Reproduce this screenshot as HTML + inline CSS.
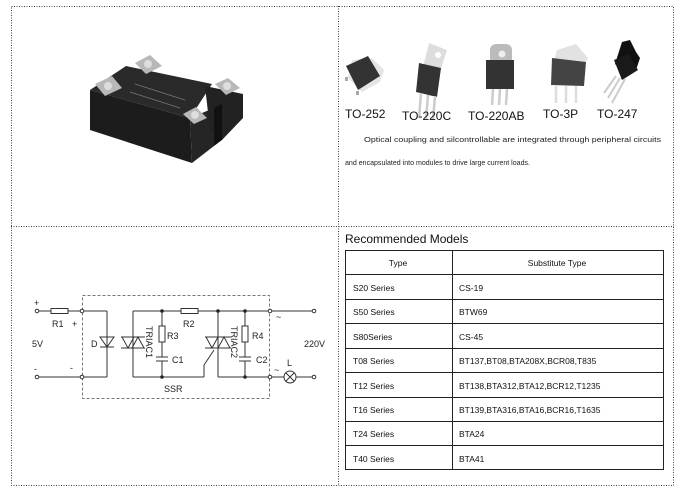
<!DOCTYPE html>
<html><head><meta charset="utf-8"><style>
html,body{margin:0;padding:0;background:#fff;}
svg{display:block;}
text{font-family:"Liberation Sans",sans-serif;}
</style></head><body>
<svg width="680" height="489" viewBox="0 0 680 489" xmlns="http://www.w3.org/2000/svg">
<rect x="0" y="0" width="680" height="489" fill="#fff"/>
<!-- outer grid dotted -->
<g stroke="#444" stroke-width="1" stroke-dasharray="1,1.5" fill="none">
<rect x="11.5" y="6.5" width="662" height="479"/>
<line x1="338.5" y1="6" x2="338.5" y2="486"/>
<line x1="11" y1="226.5" x2="674" y2="226.5"/>
</g>

<!-- relay image -->
<g>
<polygon points="90,90 126,66 212,84 190,118" fill="#2a2a2a"/>
<polygon points="90,90 190,118 192,163 90,130" fill="#1c1c1c"/>
<polygon points="190,118 214,108 214,146 192,163" fill="#252525"/>
<polygon points="205,86 243,94 243,118 222,140 210,130" fill="#222"/>
<polygon points="214,108 222,104 222,140 214,146" fill="#111"/>
<polygon points="95,84 112,76 122,88 105,96" fill="#b8b8b8"/>
<circle cx="108" cy="86" r="4" fill="#ddd"/>
<polygon points="135,63 150,55 162,66 146,74" fill="#b8b8b8"/>
<circle cx="148" cy="64" r="4" fill="#ddd"/>
<polygon points="215,84 228,78 240,88 226,95" fill="#b8b8b8"/>
<circle cx="227" cy="86" r="4" fill="#ddd"/>
<polygon points="183,114 196,107 207,118 194,124" fill="#b8b8b8"/>
<circle cx="195" cy="115" r="4" fill="#ddd"/>
<line x1="135" y1="84" x2="185" y2="100" stroke="#777" stroke-width="0.7"/>
<line x1="130" y1="92" x2="180" y2="108" stroke="#777" stroke-width="0.7"/>
</g>

<!-- transistor packages -->
<g>
<!-- TO-252 -->
<polygon points="352,60 372,58 384,70 380,82 362,92 348,78" fill="#e5e5e5"/>
<polygon points="346,66 368,56 380,76 358,90" fill="#333"/>
<rect x="345" y="77" width="3" height="4" fill="#aaa"/>
<rect x="356" y="91" width="3" height="4" fill="#aaa"/>
<!-- TO-220C -->
<polygon points="429,43 447,50 440,72 423,67" fill="#ddd"/>
<circle cx="438" cy="55" r="3" fill="#fff"/>
<polygon points="419,63 441,68 437,97 416,92" fill="#333"/>
<g stroke="#ccc" stroke-width="2.5"><line x1="421" y1="93" x2="419" y2="118"/><line x1="428" y1="95" x2="426" y2="119"/><line x1="435" y1="96" x2="433" y2="120"/></g>
<!-- TO-220AB -->
<rect x="490" y="44" width="22" height="22" rx="6" fill="#bbb"/>
<circle cx="502" cy="54" r="3.5" fill="#eee"/>
<rect x="486" y="60" width="28" height="29" fill="#333"/>
<g stroke="#ccc" stroke-width="2.5"><line x1="493" y1="89" x2="492" y2="105"/><line x1="500" y1="89" x2="499" y2="105"/><line x1="507" y1="89" x2="506" y2="105"/></g>
<!-- TO-3P -->
<polygon points="557,50 576,44 588,58 584,66 553,64" fill="#e2e2e2"/>
<polygon points="552,58 586,62 584,86 551,85" fill="#444"/>
<g stroke="#ddd" stroke-width="2.5"><line x1="556" y1="86" x2="556" y2="103"/><line x1="566" y1="86" x2="566" y2="103"/><line x1="576" y1="86" x2="576" y2="103"/></g>
<!-- TO-247 -->
<polygon points="622,42 630,40 636,52 640,58 636,70 626,74 615,64" fill="#111"/>
<polygon points="614,60 628,54 638,70 622,80" fill="#1a1a1a"/>
<g stroke="#ccc" stroke-width="2"><line x1="616" y1="76" x2="604" y2="93"/><line x1="620" y1="78" x2="608" y2="98"/><line x1="625" y1="79" x2="612" y2="103"/></g>
</g>
<g font-size="12" fill="#111">
<text x="345" y="118">TO-252</text>
<text x="402" y="120">TO-220C</text>
<text x="468" y="120">TO-220AB</text>
<text x="543" y="118">TO-3P</text>
<text x="597" y="118">TO-247</text>
</g>
<g font-size="7.3" fill="#222">
<text x="364" y="142" textLength="297" lengthAdjust="spacingAndGlyphs">Optical coupling and silcontrollable are integrated through  peripheral circuits</text>
<text x="345" y="165" textLength="185" lengthAdjust="spacingAndGlyphs">and encapsulated into modules to drive large current loads.</text>
</g>

<!-- table -->
<text x="345" y="243" font-size="12" fill="#111">Recommended Models</text>
<g stroke="#222" stroke-width="1" fill="none">
<rect x="345.5" y="250.5" width="318" height="219"/>
<line x1="452.5" y1="250" x2="452.5" y2="470"/>
<line x1="345" y1="274.5" x2="664" y2="274.5"/>
<line x1="345" y1="299.5" x2="664" y2="299.5"/>
<line x1="345" y1="323.5" x2="664" y2="323.5"/>
<line x1="345" y1="348.5" x2="664" y2="348.5"/>
<line x1="345" y1="372.5" x2="664" y2="372.5"/>
<line x1="345" y1="397.5" x2="664" y2="397.5"/>
<line x1="345" y1="421.5" x2="664" y2="421.5"/>
<line x1="345" y1="445.5" x2="664" y2="445.5"/>
</g>
<g font-size="8.5" fill="#111">
<text x="398" y="266" text-anchor="middle">Type</text>
<text x="557" y="266" text-anchor="middle">Substitute Type</text>
<text x="353" y="291">S20 Series</text><text x="459" y="291">CS-19</text>
<text x="353" y="315">S50 Series</text><text x="459" y="315">BTW69</text>
<text x="353" y="340">S80Series</text><text x="459" y="340">CS-45</text>
<text x="353" y="364">T08 Series</text><text x="459" y="364">BT137,BT08,BTA208X,BCR08,T835</text>
<text x="353" y="389">T12 Series</text><text x="459" y="389">BT138,BTA312,BTA12,BCR12,T1235</text>
<text x="353" y="413">T16 Series</text><text x="459" y="413">BT139,BTA316,BTA16,BCR16,T1635</text>
<text x="353" y="437">T24 Series</text><text x="459" y="437">BTA24</text>
<text x="353" y="462">T40 Series</text><text x="459" y="462">BTA41</text>
</g>

<!-- circuit -->
<rect x="82.5" y="295.5" width="187" height="103" fill="none" stroke="#777" stroke-dasharray="3,2"/>
<g stroke="#333" stroke-width="1" fill="none">
<line x1="39" y1="311" x2="51" y2="311"/><rect x="51" y="308.5" width="17" height="5"/>
<line x1="68" y1="311" x2="107" y2="311"/><line x1="39" y1="377" x2="107" y2="377"/>
<line x1="107" y1="311" x2="107" y2="377"/>
<polygon points="100,337 114,337 107,347" />
<line x1="100" y1="347" x2="114" y2="347"/>
<line x1="133" y1="311" x2="268" y2="311"/>
<line x1="133" y1="311" x2="133" y2="377"/>
<line x1="133" y1="377" x2="204" y2="377"/>
<line x1="204" y1="377" x2="204" y2="365"/><line x1="204" y1="365" x2="214" y2="350"/>
<polygon points="122,337 134,337 128,348"/><polygon points="132,348 144,348 138,337"/>
<line x1="121" y1="337" x2="145" y2="337"/><line x1="121" y1="348" x2="145" y2="348"/>
<line x1="162" y1="311" x2="162" y2="326"/><rect x="159" y="326" width="6" height="16"/>
<line x1="162" y1="342" x2="162" y2="357"/><line x1="156" y1="357" x2="168" y2="357"/><line x1="156" y1="361" x2="168" y2="361"/>
<line x1="162" y1="361" x2="162" y2="377"/>
<rect x="181" y="308.5" width="17" height="5" fill="#fff"/>
<line x1="218" y1="311" x2="218" y2="377"/>
<line x1="218" y1="377" x2="268" y2="377"/>
<polygon points="206,337 218,337 212,348"/><polygon points="218,348 230,348 224,337"/>
<line x1="205" y1="337" x2="231" y2="337"/><line x1="205" y1="348" x2="231" y2="348"/>
<line x1="245" y1="311" x2="245" y2="326"/><rect x="242" y="326" width="6" height="16"/>
<line x1="245" y1="342" x2="245" y2="357"/><line x1="239" y1="357" x2="251" y2="357"/><line x1="239" y1="361" x2="251" y2="361"/>
<line x1="245" y1="361" x2="245" y2="377"/>
<line x1="272" y1="311" x2="312" y2="311"/>
<line x1="272" y1="377" x2="284" y2="377"/><line x1="296" y1="377" x2="312" y2="377"/>
<circle cx="290" cy="377" r="6"/><line x1="286" y1="373" x2="294" y2="381"/><line x1="294" y1="373" x2="286" y2="381"/>
<circle cx="37" cy="311" r="1.8"/><circle cx="37" cy="377" r="1.8"/>
<circle cx="82" cy="311" r="1.8" fill="#fff"/><circle cx="82" cy="377" r="1.8" fill="#fff"/>
<circle cx="270" cy="311" r="1.8" fill="#fff"/><circle cx="270" cy="377" r="1.8" fill="#fff"/>
<circle cx="314" cy="311" r="1.8"/><circle cx="314" cy="377" r="1.8"/>
</g>
<g fill="#222"><circle cx="162" cy="311" r="1.8"/><circle cx="162" cy="377" r="1.8"/><circle cx="218" cy="311" r="1.8"/><circle cx="245" cy="311" r="1.8"/><circle cx="245" cy="377" r="1.8"/></g>
<g font-size="9" fill="#222">
<text x="34" y="306">+</text><text x="52" y="327">R1</text><text x="72" y="327">+</text>
<text x="32" y="347">5V</text><text x="91" y="347">D</text>
<text x="34" y="372">-</text><text x="70" y="371">-</text>
<text x="167" y="339">R3</text><text x="172" y="363">C1</text><text x="183" y="327">R2</text>
<text x="252" y="339">R4</text><text x="256" y="363">C2</text>
<text x="304" y="347">220V</text><text x="164" y="392">SSR</text><text x="287" y="366">L</text>
<text x="276" y="320">~</text><text x="274" y="373">~</text>
<text transform="translate(146,326) rotate(90)" font-size="9">TRIAC1</text>
<text transform="translate(231,326) rotate(90)" font-size="9">TRIAC2</text>
</g>
</svg>
</body></html>
